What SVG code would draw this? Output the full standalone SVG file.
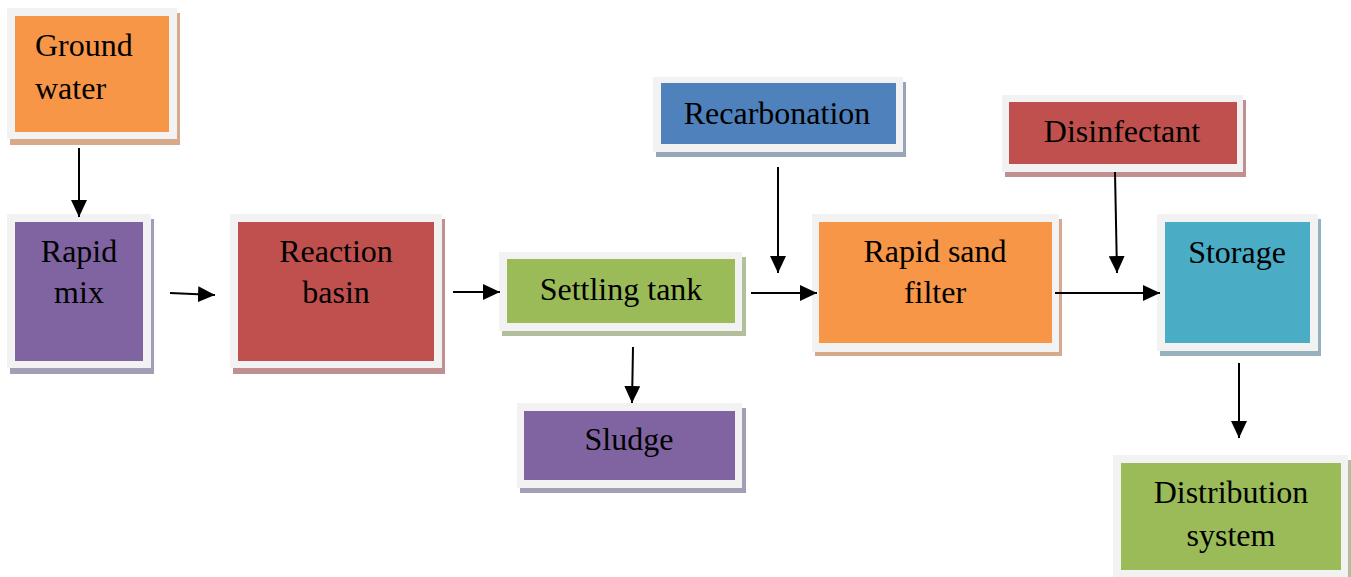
<svg xmlns="http://www.w3.org/2000/svg" width="1351" height="577" viewBox="0 0 1351 577">
<style>
.frame{fill:#f2f2f2}
.t{font-family:"Liberation Serif","Times New Roman",serif;font-size:32px;fill:#000}
.c{text-anchor:middle}
.arr{stroke:#000;stroke-width:2;fill:none;marker-end:url(#ah)}
</style>
<defs>
<marker id="ah" markerUnits="userSpaceOnUse" markerWidth="18" markerHeight="16" refX="17" refY="8" orient="auto">
<path d="M0,0 L17,8 L0,16 Z" fill="#000"/>
</marker>
</defs>
<rect width="1351" height="577" fill="#fff"/>

<g id="ground-water">
<rect x="10" y="13" width="170" height="132" fill="#d6a98a"/>
<rect class="frame" x="7" y="8" width="170" height="131"/>
<rect x="15" y="16" width="154" height="116" fill="#f79646"/>
<text class="t" x="35" y="56">Ground</text>
<text class="t" x="35" y="99">water</text>
</g>

<g id="rapid-mix">
<rect x="10" y="219" width="144" height="155" fill="#a39db5"/>
<rect class="frame" x="7" y="214" width="144" height="154"/>
<rect x="15" y="222" width="128" height="139" fill="#8064a2"/>
<text class="t c" x="79" y="262">Rapid</text>
<text class="t c" x="79" y="303">mix</text>
</g>

<g id="reaction-basin">
<rect x="233" y="219" width="212" height="155" fill="#c09090"/>
<rect class="frame" x="230" y="214" width="212" height="154"/>
<rect x="238" y="222" width="196" height="139" fill="#c0504d"/>
<text class="t c" x="336" y="262">Reaction</text>
<text class="t c" x="336" y="303">basin</text>
</g>

<g id="settling-tank">
<rect x="502" y="257" width="244" height="79" fill="#b3be9e"/>
<rect class="frame" x="499" y="252" width="243" height="79"/>
<rect x="507" y="259" width="228" height="64" fill="#9bbb59"/>
<text class="t c" x="621" y="300">Settling tank</text>
</g>

<g id="sludge">
<rect x="520" y="408" width="226" height="85" fill="#a39db5"/>
<rect class="frame" x="517" y="403" width="225" height="85"/>
<rect x="524" y="411" width="211" height="69" fill="#8064a2"/>
<text class="t c" x="629" y="450">Sludge</text>
</g>

<g id="recarbonation">
<rect x="656" y="82" width="250" height="75" fill="#96a5b8"/>
<rect class="frame" x="653" y="77" width="250" height="75"/>
<rect x="661" y="83" width="235" height="61" fill="#4f81bd"/>
<text class="t c" x="777" y="124">Recarbonation</text>
</g>

<g id="rapid-sand-filter">
<rect x="815" y="219" width="247" height="137" fill="#d6a98a"/>
<rect class="frame" x="812" y="214" width="247" height="138"/>
<rect x="819" y="222" width="233" height="121" fill="#f79646"/>
<text class="t c" x="935" y="262">Rapid sand</text>
<text class="t c" x="935" y="303">filter</text>
</g>

<g id="disinfectant">
<rect x="1005" y="100" width="241" height="77" fill="#c09090"/>
<rect class="frame" x="1002" y="95" width="241" height="77"/>
<rect x="1009" y="102" width="228" height="62" fill="#c0504d"/>
<text class="t c" x="1122" y="142">Disinfectant</text>
</g>

<g id="storage">
<rect x="1160" y="219" width="161" height="137" fill="#95b2bc"/>
<rect class="frame" x="1157" y="214" width="161" height="137"/>
<rect x="1165" y="222" width="145" height="121" fill="#4bacc6"/>
<text class="t c" x="1237" y="263">Storage</text>
</g>

<g id="distribution-system">
<rect x="1116" y="460" width="235" height="117" fill="#b3be9e"/>
<rect class="frame" x="1113" y="455" width="235" height="122"/>
<rect x="1121" y="463" width="220" height="107" fill="#9bbb59"/>
<text class="t c" x="1231" y="503">Distribution</text>
<text class="t c" x="1231" y="546">system</text>
</g>

<g id="connectors">
<line class="arr" x1="79" y1="148" x2="79" y2="217"/>
<line class="arr" x1="170" y1="293" x2="215" y2="295"/>
<line class="arr" x1="453" y1="292" x2="500" y2="292"/>
<line class="arr" x1="633" y1="347" x2="632" y2="403"/>
<line class="arr" x1="751" y1="293" x2="817" y2="293"/>
<line class="arr" x1="778" y1="167" x2="778" y2="273"/>
<line class="arr" x1="1055" y1="293" x2="1160" y2="293"/>
<line class="arr" x1="1115" y1="172" x2="1117" y2="273"/>
<line class="arr" x1="1239" y1="363" x2="1239" y2="438"/>
</g>
</svg>
